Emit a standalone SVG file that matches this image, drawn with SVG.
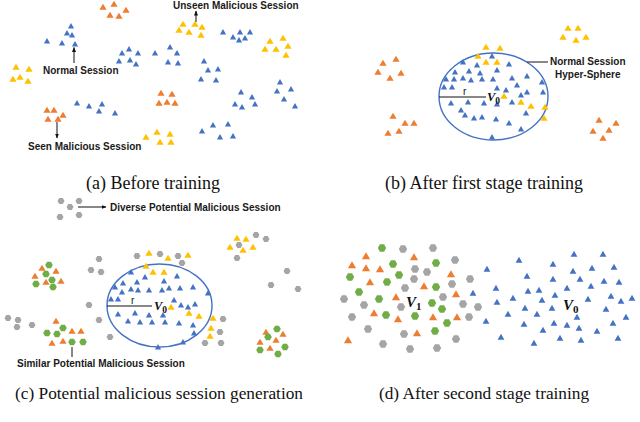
<svg xmlns="http://www.w3.org/2000/svg" xmlns:xlink="http://www.w3.org/1999/xlink" width="640" height="422" viewBox="0 0 640 422">
<style>
.lbl{font-family:"Liberation Sans",Arial,sans-serif;font-weight:bold;font-size:10px;fill:#1a1a1a}
.cap{font-family:"Liberation Serif","Times New Roman",serif;font-size:17.3px;fill:#111;text-anchor:middle}
.capL{font-size:18px}
.r{font-family:"Liberation Sans",Arial,sans-serif;font-size:10px;fill:#111}
.v{font-family:"Liberation Serif","Times New Roman",serif;font-style:italic;font-weight:bold;fill:#111}
.ln{stroke:#111;stroke-width:1;fill:none}
.sph{fill:none;stroke:#4472C4;stroke-width:1.4}
</style>
<defs>
<marker id="ah" viewBox="0 0 10 10" refX="9" refY="5" markerWidth="5" markerHeight="5" orient="auto"><path d="M0,1 L10,5 L0,9Z" fill="#111"/></marker>
<path id="tb" d="M0,-2.9 L3.1,2.5 L-3.1,2.5Z" fill="#4472C4"/>
<path id="to" d="M0,-3.2 L3.6,2.7 L-3.6,2.7Z" fill="#ED7D31"/>
<path id="ty" d="M0,-3.2 L3.6,2.7 L-3.6,2.7Z" fill="#FFC000"/>
<path id="hg" d="M3.5,0 L1.75,3.03 L-1.75,3.03 L-3.5,0 L-1.75,-3.03 L1.75,-3.03Z" fill="#A5A5A5"/>
<path id="hn" d="M3.8,0 L1.9,3.3 L-1.9,3.3 L-3.8,0 L-1.9,-3.3 L1.9,-3.3Z" fill="#70AD47"/>
<path id="tbd" d="M0,-3.3 L3.4,2.8 L-3.4,2.8Z" fill="#4472C4"/>
<path id="tod" d="M0,-3.8 L4.1,3.2 L-4.1,3.2Z" fill="#ED7D31"/>
<path id="hgd" d="M4.2,0 L2.1,3.64 L-2.1,3.64 L-4.2,0 L-2.1,-3.64 L2.1,-3.64Z" fill="#A5A5A5"/>
<path id="hnd" d="M4.2,0 L2.1,3.64 L-2.1,3.64 L-4.2,0 L-2.1,-3.64 L2.1,-3.64Z" fill="#70AD47"/>
</defs>
<rect width="640" height="422" fill="#fff"/>

<g id="panel-a">
<g id="a-orange">
<use href="#to" x="103" y="7"/><use href="#to" x="114" y="4"/><use href="#to" x="110" y="15"/><use href="#to" x="119" y="16"/><use href="#to" x="126" y="10"/>
<use href="#to" x="161" y="93"/><use href="#to" x="172" y="94"/><use href="#to" x="159" y="103"/><use href="#to" x="167" y="102"/><use href="#to" x="175" y="103"/>
<use href="#to" x="47" y="110"/><use href="#to" x="54" y="110"/><use href="#to" x="48" y="119"/><use href="#to" x="58" y="119"/><use href="#to" x="63" y="115"/>
</g>
<g id="a-yellow">
<use href="#ty" x="183" y="24"/><use href="#ty" x="195" y="24"/><use href="#ty" x="202" y="27"/><use href="#ty" x="179" y="30"/><use href="#ty" x="189" y="32"/><use href="#ty" x="201" y="35"/>
<use href="#ty" x="16" y="67"/><use href="#ty" x="29" y="69"/><use href="#ty" x="13" y="79"/><use href="#ty" x="20" y="77"/><use href="#ty" x="28" y="81"/>
<use href="#ty" x="270" y="41"/><use href="#ty" x="283" y="38"/><use href="#ty" x="288" y="46"/><use href="#ty" x="265" y="49"/><use href="#ty" x="276" y="49"/><use href="#ty" x="286" y="55"/>
<use href="#ty" x="146" y="137"/><use href="#ty" x="157" y="132"/><use href="#ty" x="170" y="134"/><use href="#ty" x="160" y="142"/><use href="#ty" x="171" y="142"/>
</g>
<g id="a-blue">
<use href="#tb" x="71" y="26"/><use href="#tb" x="67" y="33"/><use href="#tb" x="72" y="35"/><use href="#tb" x="47" y="41"/><use href="#tb" x="62" y="43"/><use href="#tb" x="75" y="44"/>
<use href="#tb" x="122" y="53"/><use href="#tb" x="129" y="49"/><use href="#tb" x="138" y="53"/><use href="#tb" x="119" y="61"/><use href="#tb" x="130" y="60"/><use href="#tb" x="136" y="64"/>
<use href="#tb" x="155" y="53"/><use href="#tb" x="170" y="47"/><use href="#tb" x="177" y="53"/><use href="#tb" x="168" y="62"/><use href="#tb" x="178" y="63"/>
<use href="#tb" x="223" y="32"/><use href="#tb" x="233" y="37"/><use href="#tb" x="240" y="32"/><use href="#tb" x="239" y="40"/><use href="#tb" x="245" y="38"/><use href="#tb" x="250" y="32"/>
<use href="#tb" x="204" y="61"/><use href="#tb" x="208" y="70"/><use href="#tb" x="218" y="69"/><use href="#tb" x="201" y="79"/><use href="#tb" x="216" y="80"/>
<use href="#tb" x="280" y="82"/><use href="#tb" x="277" y="91"/><use href="#tb" x="291" y="89"/><use href="#tb" x="284" y="99"/><use href="#tb" x="295" y="106"/>
<use href="#tb" x="241" y="92"/><use href="#tb" x="252" y="97"/><use href="#tb" x="235" y="104"/><use href="#tb" x="255" y="104"/><use href="#tb" x="242" y="107"/>
<use href="#tb" x="77" y="103"/><use href="#tb" x="89" y="106"/><use href="#tb" x="102" y="104"/><use href="#tb" x="99" y="111"/><use href="#tb" x="115" y="113"/>
<use href="#tb" x="202" y="131"/><use href="#tb" x="213" y="125"/><use href="#tb" x="228" y="124"/><use href="#tb" x="220" y="137"/><use href="#tb" x="233" y="136"/>
</g>
<g id="a-labels">
<line class="ln" x1="196" y1="22" x2="196" y2="11" marker-end="url(#ah)"/>
<text class="lbl" x="173" y="8.5">Unseen Malicious Session</text>
<line class="ln" x1="74" y1="63" x2="74" y2="47.5" marker-end="url(#ah)"/>
<text class="lbl" x="43" y="73.5">Normal Session</text>
<line class="ln" x1="57" y1="122" x2="57" y2="138" marker-end="url(#ah)"/>
<text class="lbl" x="28" y="149.5">Seen Malicious Session</text>
</g>
<text class="cap capL" x="153" y="189">(a) Before training</text>
</g>

<g id="panel-b">
<ellipse class="sph" cx="493.5" cy="96.5" rx="54.5" ry="43.5"/>
<g id="b-blue">
<use href="#tb" x="492" y="56"/><use href="#tb" x="463" y="62"/><use href="#tb" x="477" y="65"/><use href="#tb" x="509" y="64"/>
<use href="#tb" x="455" y="72"/><use href="#tb" x="469" y="71"/><use href="#tb" x="480" y="73"/><use href="#tb" x="497" y="70"/>
<use href="#tb" x="446" y="79"/><use href="#tb" x="454" y="79"/><use href="#tb" x="463" y="78"/><use href="#tb" x="471" y="80"/><use href="#tb" x="482" y="79"/><use href="#tb" x="493" y="79"/><use href="#tb" x="512" y="78"/><use href="#tb" x="527" y="76"/><use href="#tb" x="542" y="82"/>
<use href="#tb" x="444" y="87"/><use href="#tb" x="452" y="87"/><use href="#tb" x="497" y="88"/><use href="#tb" x="506" y="90"/><use href="#tb" x="517" y="85"/><use href="#tb" x="527" y="92"/><use href="#tb" x="543" y="92"/><use href="#tb" x="521" y="95"/>
<use href="#tb" x="451" y="103"/><use href="#tb" x="468" y="102"/><use href="#tb" x="484" y="103"/><use href="#tb" x="497" y="104"/><use href="#tb" x="512" y="102"/><use href="#tb" x="526" y="113"/>
<use href="#tb" x="461" y="110"/><use href="#tb" x="465" y="115"/><use href="#tb" x="474" y="118"/><use href="#tb" x="482" y="117"/><use href="#tb" x="496" y="119"/><use href="#tb" x="509" y="123"/><use href="#tb" x="521" y="129"/><use href="#tb" x="492" y="137"/>
</g>
<g id="b-yellow">
<use href="#ty" x="486" y="47"/><use href="#ty" x="500" y="48"/><use href="#ty" x="478" y="56"/><use href="#ty" x="486" y="62"/><use href="#ty" x="497" y="62"/>
<use href="#ty" x="504" y="96"/><use href="#ty" x="521" y="102"/><use href="#ty" x="531" y="106"/><use href="#ty" x="545" y="107"/><use href="#ty" x="544" y="118"/>
<use href="#ty" x="568" y="28"/><use href="#ty" x="578" y="28"/><use href="#ty" x="563" y="37"/><use href="#ty" x="576" y="40"/><use href="#ty" x="586" y="37"/>
</g>
<g id="b-orange">
<use href="#to" x="383" y="63"/><use href="#to" x="396" y="59"/><use href="#to" x="378" y="72"/><use href="#to" x="390" y="78"/><use href="#to" x="401" y="73"/>
<use href="#to" x="393" y="116"/><use href="#to" x="405" y="123"/><use href="#to" x="414" y="123"/><use href="#to" x="388" y="133"/><use href="#to" x="399" y="131"/>
<use href="#to" x="599" y="120"/><use href="#to" x="616" y="123"/><use href="#to" x="593" y="131"/><use href="#to" x="609" y="130"/><use href="#to" x="603" y="138"/>
</g>
<g id="b-labels">
<line class="ln" x1="439" y1="97" x2="486" y2="97"/>
<text class="r" x="463" y="95">r</text>
<text class="v" x="487" y="101" font-size="12.5">V<tspan font-size="9.5" dy="2.5" font-style="normal">0</tspan></text>
<line class="ln" x1="527" y1="62" x2="548" y2="62"/>
<text class="lbl" x="550" y="64.5">Normal Session</text>
<text class="lbl" x="555" y="77.5">Hyper-Sphere</text>
</g>
<text class="cap capL" x="484" y="189">(b) After first stage training</text>
</g>

<g id="panel-c">
<ellipse class="sph" cx="159.5" cy="305.5" rx="52.5" ry="41.5"/>
<g id="c-gray">
<use href="#hg" x="61" y="201"/><use href="#hg" x="70" y="207"/><use href="#hg" x="79" y="201"/><use href="#hg" x="60" y="217"/><use href="#hg" x="79" y="215"/>
<use href="#hg" x="137" y="256"/><use href="#hg" x="160" y="254"/><use href="#hg" x="178" y="256"/><use href="#hg" x="182" y="263"/>
<use href="#hg" x="99" y="259"/><use href="#hg" x="91" y="270"/><use href="#hg" x="101" y="272"/><use href="#hg" x="89" y="305"/><use href="#hg" x="99" y="320"/>
<use href="#hg" x="8" y="318"/><use href="#hg" x="18" y="320"/><use href="#hg" x="17" y="327"/><use href="#hg" x="32" y="325"/><use href="#hg" x="110" y="337"/>
<use href="#hg" x="223" y="319"/><use href="#hg" x="220" y="332"/><use href="#hg" x="205" y="343"/><use href="#hg" x="221" y="343"/>
<use href="#hg" x="256" y="235"/><use href="#hg" x="266" y="239"/><use href="#hg" x="239" y="245"/><use href="#hg" x="237" y="258"/>
<use href="#hg" x="287" y="271"/><use href="#hg" x="271" y="285"/><use href="#hg" x="298" y="289"/>
</g>
<g id="c-yellow">
<use href="#ty" x="149" y="253"/><use href="#ty" x="168" y="258"/><use href="#ty" x="188" y="255"/><use href="#ty" x="146" y="266"/><use href="#ty" x="153" y="272"/><use href="#ty" x="164" y="272"/>
<use href="#ty" x="171" y="307"/><use href="#ty" x="189" y="313"/><use href="#ty" x="199" y="316"/><use href="#ty" x="213" y="318"/><use href="#ty" x="211" y="328"/><use href="#ty" x="210" y="336"/>
<use href="#ty" x="237" y="238"/><use href="#ty" x="246" y="239"/><use href="#ty" x="230" y="247"/><use href="#ty" x="243" y="250"/><use href="#ty" x="253" y="247"/>
</g>
<g id="c-blue">
<use href="#tb" x="131" y="272"/><use href="#tb" x="145" y="277"/><use href="#tb" x="177" y="276"/><use href="#tb" x="123" y="283"/><use href="#tb" x="137" y="282"/><use href="#tb" x="164" y="281"/>
<use href="#tb" x="115" y="287"/><use href="#tb" x="122" y="292"/><use href="#tb" x="131" y="289"/><use href="#tb" x="138" y="290"/><use href="#tb" x="149" y="290"/><use href="#tb" x="162" y="290"/><use href="#tb" x="169" y="288"/><use href="#tb" x="180" y="288"/><use href="#tb" x="193" y="287"/>
<use href="#tb" x="111" y="299"/><use href="#tb" x="118" y="299"/><use href="#tb" x="174" y="300"/><use href="#tb" x="181" y="305"/><use href="#tb" x="188" y="307"/><use href="#tb" x="195" y="304"/><use href="#tb" x="208" y="293"/>
<use href="#tb" x="118" y="314"/><use href="#tb" x="135" y="313"/><use href="#tb" x="149" y="315"/><use href="#tb" x="163" y="315"/>
<use href="#tb" x="128" y="321"/><use href="#tb" x="140" y="322"/><use href="#tb" x="152" y="322"/><use href="#tb" x="165" y="322"/><use href="#tb" x="179" y="323"/><use href="#tb" x="193" y="325"/><use href="#tb" x="194" y="333"/>
<use href="#tb" x="183" y="342"/><use href="#tb" x="158" y="347"/>
</g>
<g id="c-left-cluster">
<use href="#hn" x="49" y="265"/><use href="#hn" x="46" y="274"/><use href="#hn" x="52" y="280"/><use href="#hn" x="36" y="284"/><use href="#hn" x="53" y="287"/>
<use href="#to" x="42" y="268"/><use href="#to" x="56" y="271"/><use href="#to" x="35" y="276"/><use href="#to" x="46" y="282"/><use href="#to" x="61" y="281"/>
</g>
<g id="c-lower-left-cluster">
<use href="#to" x="56" y="321"/><use href="#to" x="72" y="331"/><use href="#to" x="81" y="331"/><use href="#to" x="63" y="341"/><use href="#to" x="52" y="343"/>
<use href="#hn" x="47" y="333"/><use href="#hn" x="57" y="334"/><use href="#hn" x="63" y="328"/><use href="#hn" x="72" y="342"/><use href="#hn" x="83" y="342"/>
</g>
<g id="c-lower-right-cluster">
<use href="#to" x="266" y="332"/><use href="#to" x="283" y="334"/><use href="#to" x="260" y="342"/><use href="#to" x="276" y="340"/><use href="#to" x="270" y="348"/>
<use href="#hn" x="277" y="329"/><use href="#hn" x="268" y="337"/><use href="#hn" x="285" y="347"/><use href="#hn" x="260" y="350"/><use href="#hn" x="278" y="354"/>
</g>
<g id="c-labels">
<line class="ln" x1="107" y1="306" x2="152" y2="306"/>
<text class="r" x="131" y="304">r</text>
<text class="v" x="154" y="310" font-size="12.5">V<tspan font-size="9.5" dy="2.5" font-style="normal">0</tspan></text>
<line class="ln" x1="78" y1="207" x2="106" y2="207" marker-end="url(#ah)"/>
<text class="lbl" x="110" y="210.5">Diverse Potential Malicious Session</text>
<line class="ln" x1="72" y1="347" x2="72" y2="357"/>
<text class="lbl" x="17" y="366.5">Similar Potential Malicious Session</text>
</g>
<text class="cap" x="159" y="399">(c) Potential malicious session generation</text>
</g>

<g id="panel-d">
<g id="d-green">
<use href="#hnd" x="382" y="248"/><use href="#hnd" x="393" y="264"/><use href="#hnd" x="399" y="275"/><use href="#hnd" x="436" y="263"/><use href="#hnd" x="350" y="277"/>
<use href="#hnd" x="387" y="282"/><use href="#hnd" x="359" y="292"/><use href="#hnd" x="436" y="287"/><use href="#hnd" x="379" y="299"/><use href="#hnd" x="432" y="303"/>
<use href="#hnd" x="442" y="309"/><use href="#hnd" x="386" y="315"/><use href="#hnd" x="415" y="316"/><use href="#hnd" x="447" y="323"/><use href="#hnd" x="435" y="331"/>
</g>
<g id="d-gray">
<use href="#hgd" x="403" y="249"/><use href="#hgd" x="433" y="248"/><use href="#hgd" x="455" y="260"/><use href="#hgd" x="415" y="269"/><use href="#hgd" x="427" y="272"/>
<use href="#hgd" x="414" y="279"/><use href="#hgd" x="470" y="279"/><use href="#hgd" x="405" y="288"/><use href="#hgd" x="452" y="284"/><use href="#hgd" x="443" y="297"/>
<use href="#hgd" x="344" y="299"/><use href="#hgd" x="364" y="305"/><use href="#hgd" x="401" y="307"/><use href="#hgd" x="463" y="304"/><use href="#hgd" x="478" y="307"/>
<use href="#hgd" x="352" y="317"/><use href="#hgd" x="469" y="317"/><use href="#hgd" x="368" y="329"/><use href="#hgd" x="404" y="334"/><use href="#hgd" x="456" y="339"/>
<use href="#hgd" x="383" y="344"/><use href="#hgd" x="410" y="349"/><use href="#hgd" x="437" y="348"/>
</g>
<g id="d-orange">
<use href="#tod" x="366" y="256"/><use href="#tod" x="414" y="257"/><use href="#tod" x="352" y="265"/><use href="#tod" x="366" y="268"/><use href="#tod" x="380" y="269"/>
<use href="#tod" x="451" y="274"/><use href="#tod" x="370" y="282"/><use href="#tod" x="424" y="286"/><use href="#tod" x="396" y="297"/><use href="#tod" x="456" y="294"/>
<use href="#tod" x="374" y="313"/><use href="#tod" x="433" y="317"/><use href="#tod" x="457" y="317"/><use href="#tod" x="398" y="319"/><use href="#tod" x="417" y="333"/><use href="#tod" x="348" y="340"/>
</g>
<g id="d-blue">
<use href="#tbd" x="519" y="260"/><use href="#tbd" x="487" y="269"/><use href="#tbd" x="553" y="264"/><use href="#tbd" x="574" y="254"/><use href="#tbd" x="603" y="254"/>
<use href="#tbd" x="527" y="276"/><use href="#tbd" x="553" y="279"/><use href="#tbd" x="573" y="271"/><use href="#tbd" x="592" y="268"/><use href="#tbd" x="614" y="267"/><use href="#tbd" x="580" y="279"/>
<use href="#tbd" x="496" y="288"/><use href="#tbd" x="473" y="293"/><use href="#tbd" x="513" y="298"/><use href="#tbd" x="497" y="302"/><use href="#tbd" x="528" y="291"/><use href="#tbd" x="539" y="290"/>
<use href="#tbd" x="567" y="288"/><use href="#tbd" x="591" y="286"/><use href="#tbd" x="604" y="281"/><use href="#tbd" x="619" y="282"/><use href="#tbd" x="542" y="300"/><use href="#tbd" x="555" y="295"/>
<use href="#tbd" x="588" y="299"/><use href="#tbd" x="611" y="296"/><use href="#tbd" x="621" y="301"/><use href="#tbd" x="632" y="298"/><use href="#tbd" x="525" y="308"/><use href="#tbd" x="552" y="308"/>
<use href="#tbd" x="508" y="314"/><use href="#tbd" x="537" y="314"/><use href="#tbd" x="577" y="317"/><use href="#tbd" x="606" y="309"/><use href="#tbd" x="626" y="317"/><use href="#tbd" x="486" y="321"/>
<use href="#tbd" x="524" y="324"/><use href="#tbd" x="554" y="323"/><use href="#tbd" x="567" y="325"/><use href="#tbd" x="579" y="328"/><use href="#tbd" x="543" y="330"/><use href="#tbd" x="597" y="331"/>
<use href="#tbd" x="613" y="323"/><use href="#tbd" x="501" y="337"/><use href="#tbd" x="560" y="338"/><use href="#tbd" x="581" y="340"/><use href="#tbd" x="618" y="338"/><use href="#tbd" x="534" y="343"/>
</g>
<g id="d-labels">
<text class="v" x="406" y="307" font-size="15">V<tspan font-size="11" dy="3" font-style="normal">1</tspan></text>
<text class="v" x="563" y="310" font-size="15">V<tspan font-size="11" dy="3" font-style="normal">0</tspan></text>
</g>
<text class="cap" x="484" y="399">(d) After second stage training</text>
</g>
</svg>
